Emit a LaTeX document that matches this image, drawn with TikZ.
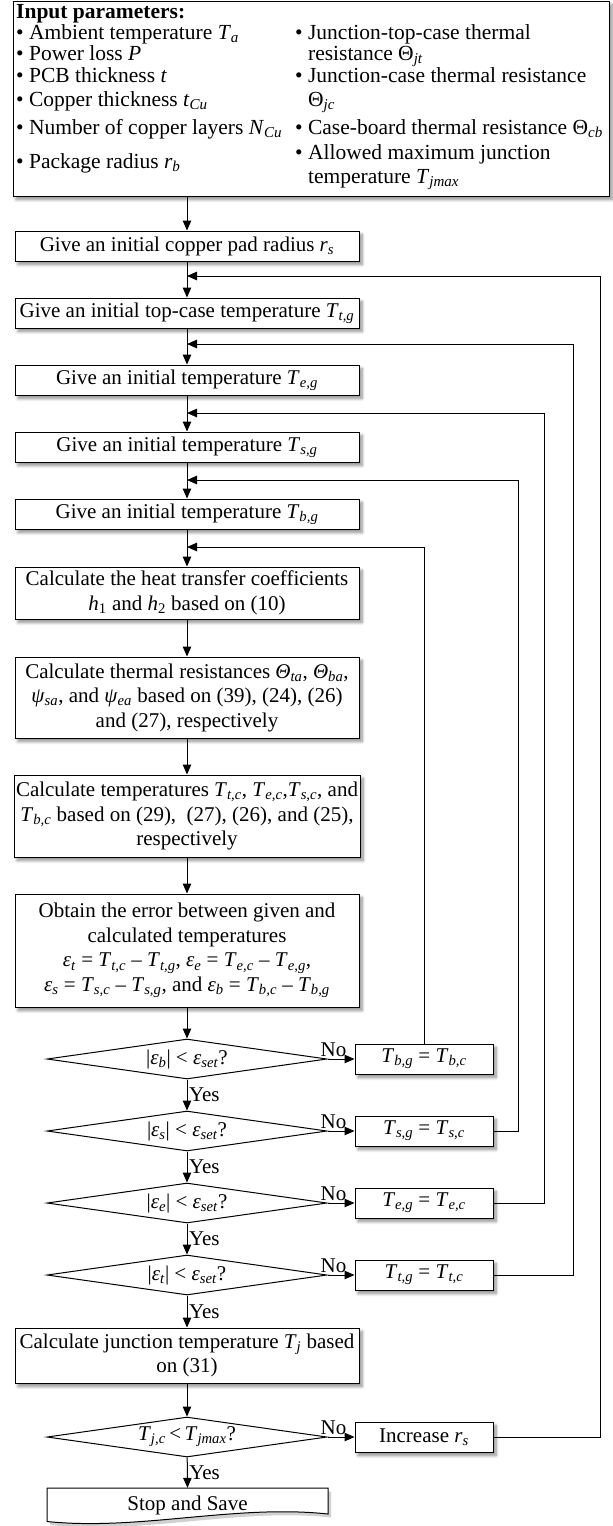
\documentclass[tikz,border=0pt]{standalone}
\usepackage{fontspec}
\setmainfont{Liberation Serif}
\usetikzlibrary{shapes.geometric,shadows.blur,arrows.meta}
\newcommand{\V}[2]{\textit{#1}\textsubscript{\textit{#2}}}
\newcommand{\fs}{\fontsize{21}{24.5}\selectfont}
\newcommand{\fsin}{\fontsize{21.5}{24.5}\selectfont}
\begin{document}
\begin{tikzpicture}[x=1pt,y=-1pt,font=\fs,
  lw/.style={line width=1pt},
  shad/.style={blur shadow={shadow xshift=3pt,shadow yshift=-3.5pt,shadow blur radius=3pt,shadow blur steps=8,shadow opacity=45}},
  flowbox/.style={draw,lw,fill=white,shad,align=center,minimum width=344pt,inner sep=2pt},
  smallbox/.style={draw,lw,fill=white,shad,minimum width=138pt,minimum height=30pt,inner sep=2pt},
  decide/.style={draw,lw,fill=white,diamond,aspect=7,minimum width=280pt,minimum height=40pt,inner sep=0pt},
  arr/.style={lw,-{Triangle[length=10pt,width=8.5pt]}},
  lbl/.style={inner sep=1.5pt},
  txt/.style={anchor=mid west,inner sep=0pt,font=\fsin},
]
\useasboundingbox (0,0) rectangle (613,1526);

% input box
\node[draw,lw,fill=white,shad,minimum width=596pt,minimum height=195pt,inner sep=0pt] (inp) at (311,98.5) {};
\node[txt,font=\fsin\bfseries] (t0) at (16,16) {Input parameters:};
\node[txt] (l1) at (16,37) {• Ambient temperature \V{T}{a}};
\node[txt] (l2) at (16,58) {• Power loss \textit{P}};
\node[txt] (l3) at (16,80) {• PCB thickness \textit{t}};
\node[txt] (l4) at (16,104) {• Copper thickness \V{t}{Cu}};
\node[txt] (l5) at (16,132) {• Number of copper layers \V{N}{Cu}};
\node[txt] (l6) at (16,166) {• Package radius \V{r}{b}};
\node[txt] (r1) at (295,37) {• Junction-top-case thermal};
\node[txt] (r2) at (295,58) {\phantom{• }resistance Θ\textsubscript{\textit{jt}}};
\node[txt] (r3) at (295,80) {• Junction-case thermal resistance};
\node[txt] (r4) at (295,104) {\phantom{• }Θ\textsubscript{\textit{jc}}};
\node[txt] (r5) at (295,132) {• Case-board thermal resistance Θ\textsubscript{\textit{cb}}};
\node[txt] (r6) at (295,157) {• Allowed maximum junction};
\node[txt] (r7) at (295,181) {\phantom{• }temperature \V{T}{jmax}};

% main column
\node[flowbox,minimum height=30pt] (b1) at (187,246) {Give an initial copper pad radius \V{r}{s}};
\node[flowbox,minimum height=30pt] (b2) at (187,313) {Give an initial top-case temperature \V{T}{t,g}};
\node[flowbox,minimum height=30pt] (b3) at (187,380) {Give an initial temperature \V{T}{e,g}};
\node[flowbox,minimum height=30pt] (b4) at (187,447) {Give an initial temperature \V{T}{s,g}};
\node[flowbox,minimum height=30pt] (b5) at (187,514) {Give an initial temperature \V{T}{b,g}};
\node[flowbox,minimum height=52pt] (b6) at (187,593) {Calculate the heat transfer coefficients\\ \textit{h}\textsubscript{1} and \textit{h}\textsubscript{2} based on (10)};
\node[flowbox,minimum height=81pt] (b7) at (187,697.5) {Calculate thermal resistances \V{Θ}{ta}, \V{Θ}{ba},\\ \V{ψ}{sa}, and \V{ψ}{ea} based on (39), (24), (26)\\ and (27), respectively};
\node[flowbox,minimum height=82pt] (b8) at (187,816) {Calculate temperatures \V{T}{t,c}, \V{T}{e,c},\V{T}{s,c}, and\\ \V{T}{b,c} based on (29), \ (27), (26), and (25),\\ respectively};
\node[flowbox,minimum height=113pt] (b9) at (187,950.5) {Obtain the error between given and\\ calculated temperatures\\ \V{ε}{t} = \V{T}{t,c} – \V{T}{t,g}, \V{ε}{e} = \V{T}{e,c} – \V{T}{e,g},\\ \V{ε}{s} = \V{T}{s,c} – \V{T}{s,g}, and \V{ε}{b} = \V{T}{b,c} – \V{T}{b,g}};

\node[decide] (d1) at (187,1059) {|\V{ε}{b}| < \V{ε}{set}?};
\node[decide] (d2) at (187,1131) {|\V{ε}{s}| < \V{ε}{set}?};
\node[decide] (d3) at (187,1203) {|\V{ε}{e}| < \V{ε}{set}?};
\node[decide] (d4) at (187,1275) {|\V{ε}{t}| < \V{ε}{set}?};
\node[flowbox,minimum height=55pt] (b10) at (187,1355.5) {Calculate junction temperature \V{T}{j} based\\ on (31)};
\node[decide] (d5) at (187,1437) {\V{T}{j,c}\,<\,\V{T}{jmax}?};

% stop shape
\fill[black!60,opacity=0.3] (50,1491.5) -- (331,1491.5) -- (331,1517.5) .. controls (238,1507.5) and (143,1535) .. (50,1525) -- cycle;
\draw[lw,fill=white] (47,1488) -- (328,1488) -- (328,1514) .. controls (235,1504) and (140,1531) .. (47,1521.5) -- cycle;
\node[minimum width=281pt,minimum height=34pt,inner sep=0pt] (stop) at (187.5,1505) {Stop and Save};

% side boxes
\node[smallbox] (s1) at (424,1059) {\V{T}{b,g} = \V{T}{b,c}};
\node[smallbox] (s2) at (424,1131) {\V{T}{s,g} = \V{T}{s,c}};
\node[smallbox] (s3) at (424,1203) {\V{T}{e,g} = \V{T}{e,c}};
\node[smallbox] (s4) at (424,1275) {\V{T}{t,g} = \V{T}{t,c}};
\node[smallbox] (s5) at (424,1437) {Increase \V{r}{s}};

% feedback coordinates
\coordinate (j1) at (187,276); \coordinate (k1) at (600,276);
\coordinate (j2) at (187,344); \coordinate (k2) at (573,344);
\coordinate (j3) at (187,413); \coordinate (k3) at (544,413);
\coordinate (j4) at (187,480); \coordinate (k4) at (518,480);
\coordinate (j5) at (187,547);

% main connectors
\draw[arr] (b1.north |- inp.south) -- (b1.north);
\draw[arr] (b1) -- (b2);
\draw[arr] (b2) -- (b3);
\draw[arr] (b3) -- (b4);
\draw[arr] (b4) -- (b5);
\draw[arr] (b5) -- (b6);
\draw[arr] (b6) -- (b7);
\draw[arr] (b7) -- (b8);
\draw[arr] (b8) -- (b9);
\draw[arr] (b9) -- (d1);
\draw[arr] (d1) -- node[lbl,anchor=west] {Yes} (d2);
\draw[arr] (d2) -- node[lbl,anchor=west] {Yes} (d3);
\draw[arr] (d3) -- node[lbl,anchor=west] {Yes} (d4);
\draw[arr] (d4) -- node[lbl,anchor=west] {Yes} (b10);
\draw[arr] (b10) -- (d5);
\draw[arr] (d5) -- node[lbl,anchor=west] {Yes} (stop.north);

% no branches
\draw[arr] (d1.east) -- node[lbl,anchor=south,pos=0.22] {No} (s1.west);
\draw[arr] (d2.east) -- node[lbl,anchor=south,pos=0.22] {No} (s2.west);
\draw[arr] (d3.east) -- node[lbl,anchor=south,pos=0.22] {No} (s3.west);
\draw[arr] (d4.east) -- node[lbl,anchor=south,pos=0.22] {No} (s4.west);
\draw[arr] (d5.east) -- node[lbl,anchor=south,pos=0.22] {No} (s5.west);

% feedback loops
\draw[arr] (s1.north) |- (j5);
\draw[arr] (s2.east) -| (k4) -- (j4);
\draw[arr] (s3.east) -| (k3) -- (j3);
\draw[arr] (s4.east) -| (k2) -- (j2);
\draw[arr] (s5.east) -| (k1) -- (j1);
\end{tikzpicture}
\end{document}
